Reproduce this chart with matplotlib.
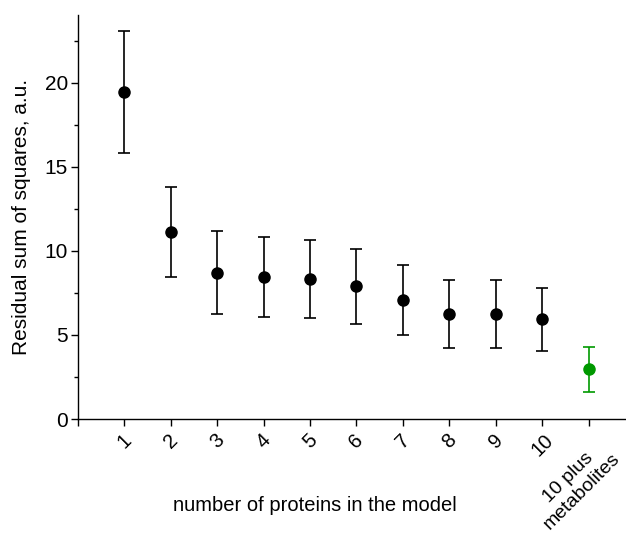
import matplotlib
matplotlib.use("Agg")
import matplotlib.pyplot as plt
from matplotlib.ticker import MultipleLocator
from matplotlib.transforms import ScaledTranslation

plt.rcParams['font.family'] = ['Liberation Sans', 'DejaVu Sans']

categories = ["1", "2", "3", "4", "5", "6", "7", "8", "9", "10", "10 plus\nmetabolites"]
means = [19.42, 11.12, 8.68, 8.45, 8.31, 7.89, 7.10, 6.25, 6.23, 5.95, 2.95]
upper = [23.05, 13.81, 11.18, 10.82, 10.64, 10.13, 9.16, 8.27, 8.25, 7.82, 4.31]
lower = [15.80, 8.43, 6.23, 6.07, 5.99, 5.66, 5.00, 4.23, 4.23, 4.05, 1.60]
colors = ["black"] * 10 + ["#009900"]

fig = plt.figure(figsize=(6.26, 5.45), dpi=100)
ax = fig.add_axes([0.124, 0.231, 0.876, 0.741])

xs = list(range(1, len(categories) + 1))
for x, m, u, l, c in zip(xs, means, upper, lower, colors):
    ax.errorbar([x], [m], yerr=[[m - l], [u - m]], fmt='o', color=c, ecolor=c,
                markersize=8, elinewidth=1.2, capsize=4.5, capthick=1.2)

ax.set_xlim(0, 11.8)
ax.set_ylim(0, 24)
ax.set_xticks([0] + xs)
ax.set_xticklabels([""] + categories, rotation=45, ha='center', fontsize=14.5)
ax.yaxis.set_major_locator(MultipleLocator(5))
ax.yaxis.set_minor_locator(MultipleLocator(2.5))
ax.tick_params(axis='y', which='major', direction='out', length=5, width=1, labelsize=15, pad=2)
ax.tick_params(axis='y', which='minor', direction='out', length=3, width=1)
ax.tick_params(axis='x', which='major', direction='out', length=5, width=1, pad=3)
for s in ['top', 'right']:
    ax.spines[s].set_visible(False)
for s in ['left', 'bottom']:
    ax.spines[s].set_linewidth(1)

last = ax.get_xticklabels()[-1]
last.set_fontsize(14)
last.set_transform(last.get_transform() + ScaledTranslation(-10 / 72, -4 / 72, fig.dpi_scale_trans))

ax.set_ylabel("Residual sum of squares, a.u.", fontsize=15)
ax.set_xlabel("number of proteins in the model", fontsize=14.5)
ax.xaxis.set_label_coords(0.433, -0.19)
ax.yaxis.set_label_coords(-0.085, 0.5)

fig.savefig("out.png", dpi=100)
